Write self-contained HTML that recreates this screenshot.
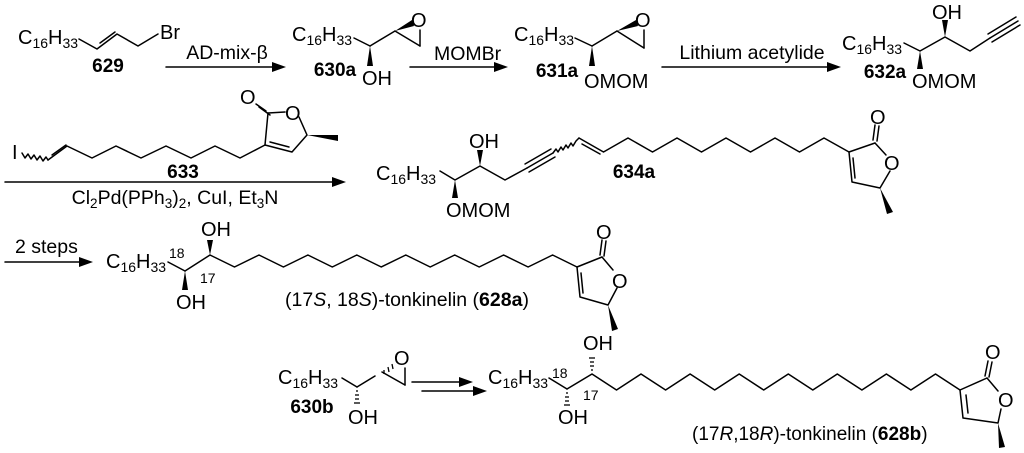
<!DOCTYPE html>
<html><head><meta charset="utf-8"><style>
html,body{margin:0;padding:0;background:#fff;}
svg{display:block;}
text{font-family:"Liberation Sans",Arial,sans-serif;fill:#000;}
</style></head><body>
<svg width="1024" height="453" viewBox="0 0 1024 453" xmlns="http://www.w3.org/2000/svg">
<g stroke="#000" stroke-width="1.5" fill="none" stroke-linecap="round" stroke-linejoin="round">
<polyline points="79,39 97,49 117,34 138,46 158,34"/>
<line x1="100" y1="43" x2="115" y2="32" />
<line x1="354" y1="38" x2="370" y2="46"/>
<line x1="370" y1="46" x2="395" y2="31"/>
<line x1="395" y1="31" x2="420" y2="46"/>
<line x1="420" y1="46" x2="420" y2="30"/>
<line x1="575" y1="38" x2="592" y2="46"/>
<line x1="592" y1="46" x2="617" y2="31"/>
<line x1="617" y1="31" x2="644" y2="48"/>
<line x1="644" y1="48" x2="644" y2="30"/>
<polyline points="904,43 920,51 945,37 970,51 990,38"/>
<line x1="990" y1="38" x2="1018" y2="21"/>
<line x1="988" y1="34" x2="1016" y2="17"/>
<line x1="992" y1="42" x2="1020" y2="25"/>
<polyline points="22,153 25,158 28,154 31,159 34,155 37,160 40,156 43,161 46,157 48,160"/>
<polyline points="48,160 67,146 92,158 116,146 141,158 166,146 191,158 215,146 240,158 265,145"/>
<line x1="52" y1="155" x2="66" y2="145"/>
<polyline points="265,145 268,113"/>
<polyline points="268,113 285,112"/>
<polyline points="299,117 307,135 292,152 265,145"/>
<line x1="270" y1="142" x2="289" y2="147"/>
<line x1="266" y1="111" x2="256" y2="104"/>
<line x1="270" y1="115" x2="259" y2="107"/>
<polyline points="440,171 455,180 480,166 505,180 527,168"/>
<line x1="527" y1="168" x2="553" y2="153"/>
<line x1="525" y1="164" x2="551" y2="149"/>
<line x1="529" y1="172" x2="555" y2="157"/>
<polyline points="553,153 556,149 558,152 561,147 563,150 566,145 568,148 571,143 573,146 576,141 579,138"/>
<polyline points="579,138 603.5,152 628,138 652.5,152 677,138 701.5,152 726,138 750.5,152 775,138 799.5,152 824,138 849,152"/>
<line x1="582" y1="144" x2="600" y2="154"/>
<line x1="849" y1="152" x2="875" y2="143"/>
<line x1="875" y1="143" x2="886" y2="155"/>
<polyline points="890,171 880,188 852,182 849,152"/>
<line x1="855" y1="178" x2="853" y2="158"/>
<line x1="873" y1="140" x2="875" y2="125"/>
<line x1="877" y1="141" x2="879" y2="126"/>
<line x1="168" y1="262" x2="185" y2="271"/>
<polyline points="185,271 210,255 234.5,267 259,255 283.4,267 307.9,255 332.3,267 356.8,255 381.3,267 405.8,255 430.2,267 454.7,255 479.2,267 503.6,255 528.1,267 552.6,255 577,267"/>
<line x1="577" y1="267" x2="602" y2="257"/>
<line x1="602" y1="257" x2="613" y2="270"/>
<polyline points="617,288 608,305 580,297 577,267"/>
<line x1="583" y1="293" x2="581" y2="273"/>
<line x1="600" y1="255" x2="602" y2="240"/>
<line x1="604" y1="256" x2="606" y2="241"/>
<line x1="342" y1="378" x2="357" y2="387"/>
<line x1="357" y1="387" x2="375" y2="376"/>
<line x1="382" y1="372" x2="405" y2="385"/>
<line x1="405" y1="385" x2="405" y2="368"/>
<line x1="549" y1="378" x2="567" y2="389"/>
<polyline points="567,389 592,374 616.5,390 641,374 665.6,390 690.1,374 714.7,390 739.2,374 763.7,390 788.3,374 812.8,390 837.3,374 861.9,390 886.4,374 910.9,390 935.5,374 960,390"/>
<line x1="960" y1="390" x2="987" y2="378"/>
<line x1="987" y1="378" x2="998" y2="391"/>
<polyline points="1001,409 998,423 963,418 960,390"/>
<line x1="968" y1="413" x2="966" y2="395"/>
<line x1="985" y1="376" x2="988" y2="361"/>
<line x1="989" y1="377" x2="992" y2="362"/>
<line x1="166" y1="67" x2="275" y2="67"/>
<line x1="410" y1="67" x2="497" y2="67"/>
<line x1="662" y1="67" x2="830" y2="67"/>
<line x1="5" y1="182" x2="335" y2="182"/>
<line x1="5" y1="262" x2="82" y2="262"/>
<line x1="412" y1="382" x2="462" y2="382"/>
<line x1="422" y1="391" x2="476" y2="391"/>
</g>
<g fill="#000">
<polygon points="286,67 272,62 272,72"/>
<polygon points="508,67 494,62 494,72"/>
<polygon points="841,67 827,62 827,72"/>
<polygon points="346,182 332,177 332,187"/>
<polygon points="93,262 79,257 79,267"/>
<polygon points="473,382 459,377 459,387"/>
<polygon points="487,391 473,386 473,396"/>
<polygon points="370,46 367,66 373,66"/>
<polygon points="395,31 412,20 414,26"/>
<polygon points="592,46 589,66 595,66"/>
<polygon points="617,31 636,20 638,26"/>
<polygon points="920,51 917,69 923,69"/>
<polygon points="945,37 942,20 948,20"/>
<polygon points="307,135 338,135 338,141"/>
<polygon points="455,180 452,198 458,198"/>
<polygon points="480,166 477,150 483,150"/>
<polygon points="880,188 887,214 893,212"/>
<polygon points="185,271 182,290 188,290"/>
<polygon points="210,255 207,240 213,240"/>
<polygon points="608,305 612,331 618,329"/>
<polygon points="998,423 999,448 1005,447"/>
</g>
<g stroke="#000" stroke-width="1.3">
<line x1="356" y1="391" x2="358" y2="391"/><line x1="355" y1="395" x2="359" y2="395"/><line x1="355" y1="399" x2="359" y2="399"/><line x1="354" y1="403" x2="360" y2="403"/>
<line x1="384" y1="370" x2="384" y2="374"/><line x1="388" y1="367" x2="389" y2="372"/><line x1="392" y1="364" x2="393" y2="369"/>
<line x1="566" y1="393" x2="568" y2="393"/><line x1="565" y1="397" x2="569" y2="397"/><line x1="565" y1="401" x2="569" y2="401"/><line x1="564" y1="405" x2="570" y2="405"/>
<line x1="591" y1="370" x2="593" y2="370"/><line x1="590" y1="366" x2="594" y2="366"/><line x1="590" y1="362" x2="594" y2="362"/><line x1="589" y1="358" x2="595" y2="358"/>
</g>
<g font-size="20">
<text x="18" y="44">C<tspan font-size="14" dy="4">16</tspan><tspan dy="-4">H</tspan><tspan font-size="14" dy="4">33</tspan></text>
<text x="160" y="39">Br</text>
<text x="292" y="41">C<tspan font-size="14" dy="4">16</tspan><tspan dy="-4">H</tspan><tspan font-size="14" dy="4">33</tspan></text>
<text x="411" y="27">O</text>
<text x="362" y="85">OH</text>
<text x="514" y="41">C<tspan font-size="14" dy="4">16</tspan><tspan dy="-4">H</tspan><tspan font-size="14" dy="4">33</tspan></text>
<text x="635" y="27">O</text>
<text x="584" y="88">OMOM</text>
<text x="842" y="50">C<tspan font-size="14" dy="4">16</tspan><tspan dy="-4">H</tspan><tspan font-size="14" dy="4">33</tspan></text>
<text x="932" y="19">OH</text>
<text x="912" y="88">OMOM</text>
<text x="12" y="159">I</text>
<text x="240" y="104">O</text>
<text x="285" y="120">O</text>
<text x="376" y="180">C<tspan font-size="14" dy="4">16</tspan><tspan dy="-4">H</tspan><tspan font-size="14" dy="4">33</tspan></text>
<text x="469" y="148">OH</text>
<text x="446" y="217">OMOM</text>
<text x="870" y="124">O</text>
<text x="884" y="170">O</text>
<text x="106" y="268">C<tspan font-size="14" dy="4">16</tspan><tspan dy="-4">H</tspan><tspan font-size="14" dy="4">33</tspan></text>
<text x="201" y="236">OH</text>
<text x="176" y="309">OH</text>
<text x="596" y="239">O</text>
<text x="612" y="288">O</text>
<text x="278" y="384">C<tspan font-size="14" dy="4">16</tspan><tspan dy="-4">H</tspan><tspan font-size="14" dy="4">33</tspan></text>
<text x="394" y="365">O</text>
<text x="348" y="424">OH</text>
<text x="488" y="384">C<tspan font-size="14" dy="4">16</tspan><tspan dy="-4">H</tspan><tspan font-size="14" dy="4">33</tspan></text>
<text x="583" y="350">OH</text>
<text x="558" y="424">OH</text>
<text x="985" y="359">O</text>
<text x="998" y="407">O</text>
</g>
<g font-size="19.5">
<text x="227" y="59" text-anchor="middle">AD-mix-β</text>
<text x="434" y="60">MOMBr</text>
<text x="752" y="59" text-anchor="middle">Lithium acetylide</text>
<text x="175" y="204" text-anchor="middle">Cl<tspan font-size="13.5" dy="4">2</tspan><tspan dy="-4">Pd(PPh</tspan><tspan font-size="13.5" dy="4">3</tspan><tspan dy="-4">)</tspan><tspan font-size="13.5" dy="4">2</tspan><tspan dy="-4">, CuI, Et</tspan><tspan font-size="13.5" dy="4">3</tspan><tspan dy="-4">N</tspan></text>
<text x="15" y="253">2 steps</text>
<text x="285" y="306">(17<tspan font-style="italic">S</tspan>, 18<tspan font-style="italic">S</tspan>)-tonkinelin (<tspan font-weight="bold">628a</tspan>)</text>
<text x="692" y="440" font-size="19">(17<tspan font-style="italic">R</tspan>,18<tspan font-style="italic">R</tspan>)-tonkinelin (<tspan font-weight="bold">628b</tspan>)</text>
</g>
<g font-size="14">
<text x="169" y="258">18</text>
<text x="200" y="283">17</text>
<text x="552" y="378">18</text>
<text x="583" y="400">17</text>
</g>
<g font-size="19" font-weight="bold">
<text x="108" y="72" text-anchor="middle">629</text>
<text x="335" y="76" text-anchor="middle">630a</text>
<text x="557" y="77" text-anchor="middle">631a</text>
<text x="885" y="78" text-anchor="middle">632a</text>
<text x="183" y="178" text-anchor="middle">633</text>
<text x="634" y="178" text-anchor="middle">634a</text>
<text x="312" y="413" text-anchor="middle">630b</text>
</g>
</svg>
</body></html>
